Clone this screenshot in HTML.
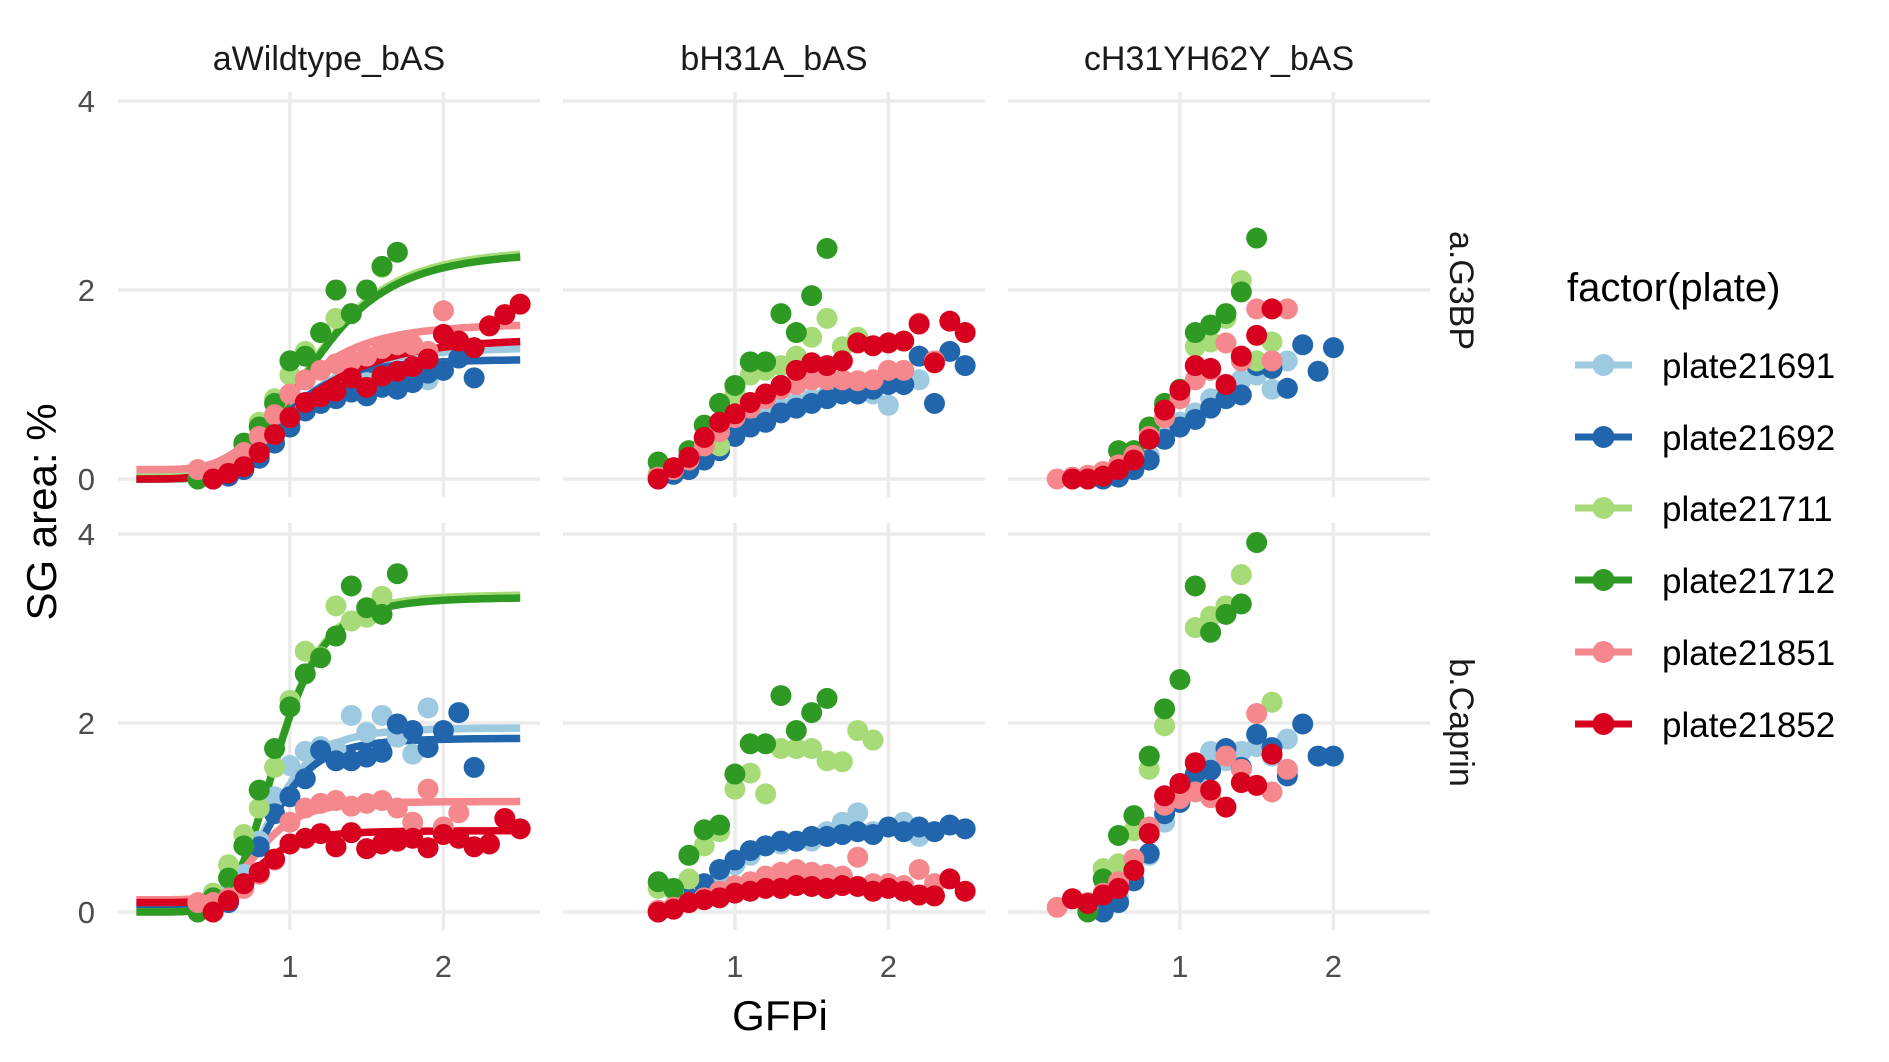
<!DOCTYPE html>
<html><head><meta charset="utf-8"><style>
html,body{margin:0;padding:0;background:#fff;}
svg{display:block;font-family:"Liberation Sans",Arial,sans-serif;}
</style></head><body>
<svg id="chart" width="1889" height="1062" viewBox="0 0 1889 1062">
<g id="grid"></g><g id="fits"></g><g id="pts"></g><g id="labels"></g><g id="legend"></g>
</svg>
<script>
// ---- data ----
const columns = ["aWildtype_bAS", "bH31A_bAS", "cH31YH62Y_bAS"];
const rows = ["a.G3BP", "b.Caprin"];
const plates = ["plate21691", "plate21692", "plate21711", "plate21712", "plate21851", "plate21852"];
const colors = ["#9ecae1", "#2166ac", "#a6db78", "#2e9a24", "#f4888c", "#d7001e"];
const yTicks = [0, 2, 4];
const xTicks = [1, 2];

const startTL = [0.5, 0.5, 0.4, 0.4, 0.4, 0.5];
const valsTL = [
 [0.02,0.05,0.12,0.25,0.45,0.62,0.75,0.85,0.92,0.98,1.02,1.08,1.12,1.18,1.05,1.15],
 [0.0,0.03,0.1,0.22,0.38,0.55,0.72,0.8,0.85,0.92,0.88,0.97,0.95,1.02,1.12,1.15,1.28,1.07],
 [0.0,0.05,0.15,0.35,0.6,0.85,1.1,1.35,1.55,1.7,1.75,2.0,2.24],
 [0.0,0.05,0.12,0.38,0.55,0.8,1.25,1.3,1.55,2.0,1.75,2.0,2.25,2.4],
 [0.1,0.08,0.15,0.28,0.45,0.68,0.9,1.05,1.15,1.22,1.25,1.3,1.38,1.42,1.42,1.35,1.78],
 [0.0,0.06,0.13,0.28,0.47,0.65,0.81,0.87,0.93,1.07,0.97,1.09,1.14,1.19,1.27,1.53,1.46,1.39,1.62,1.74,1.85]
];
const startTM = [0.5, 0.5, 0.5, 0.5, 0.5, 0.5];
const valsTM = [
 [0.02,0.05,0.12,0.22,0.35,0.5,0.6,0.68,0.75,0.8,0.85,0.88,0.92,0.95,0.9,0.78,1.05,1.05],
 [0.0,0.05,0.1,0.2,0.3,0.45,0.55,0.6,0.7,0.75,0.8,0.85,0.9,0.9,0.95,1.0,1.0,1.3,0.8,1.35,1.2],
 [0.05,0.1,0.25,0.4,0.35,0.9,1.1,1.15,1.2,1.3,1.5,1.7,1.4,1.5],
 [0.18,0.1,0.3,0.57,0.8,0.99,1.24,1.24,1.75,1.55,1.94,2.44],
 [0.02,0.1,0.2,0.35,0.5,0.65,0.75,0.85,0.95,1.0,1.05,1.05,1.05,1.04,1.05,1.15,1.15,1.65,1.25],
 [0.0,0.12,0.23,0.44,0.6,0.69,0.81,0.9,0.99,1.15,1.23,1.2,1.25,1.44,1.41,1.44,1.46,1.64,1.23,1.67,1.55]
];
const startTR = [0.5, 0.4, 0.5, 0.4, 0.2, 0.3];
const valsTR = [
 [0.0,0.03,0.1,0.25,0.45,0.6,0.7,0.85,0.95,1.05,1.1,0.95,1.25],
 [0.0,0.0,0.02,0.1,0.2,0.42,0.55,0.63,0.75,0.85,0.89,1.2,1.17,0.96,1.42,1.14,1.39],
 [0.05,0.15,0.3,0.5,0.75,0.9,1.4,1.45,1.7,2.1,1.25,1.45],
 [0.0,0.05,0.3,0.3,0.55,0.8,0.95,1.55,1.63,1.75,1.98,2.55],
 [0.0,0.02,0.04,0.08,0.15,0.25,0.45,0.65,0.85,1.05,1.15,1.44,1.25,1.8,1.25,1.8],
 [0.0,0.0,0.03,0.1,0.2,0.42,0.73,0.94,1.2,1.17,1.0,1.3,1.52,1.8]
];
const startBL = [0.5, 0.6, 0.5, 0.4, 0.4, 0.5];
const valsBL = [
 [0.15,0.2,0.4,0.75,1.22,1.55,1.7,1.75,1.72,2.08,1.9,2.08,1.85,1.67,2.16],
 [0.1,0.3,0.69,1.04,1.22,1.41,1.71,1.6,1.6,1.64,1.69,1.99,1.92,1.74,1.92,2.11,1.53],
 [0.2,0.5,0.82,1.1,1.53,2.24,2.76,2.7,3.24,3.08,3.12,3.34],
 [0.0,0.15,0.36,0.7,1.29,1.73,2.17,2.52,2.69,2.92,3.45,3.22,3.15,3.58],
 [0.1,0.1,0.15,0.25,0.4,0.55,0.95,1.1,1.15,1.18,1.12,1.15,1.18,1.1,0.95,1.3,0.9,1.05],
 [0.0,0.12,0.3,0.42,0.56,0.72,0.78,0.83,0.69,0.84,0.67,0.72,0.75,0.78,0.68,0.82,0.78,0.69,0.72,0.99,0.88]
];
const startBM = [0.5, 0.5, 0.5, 0.5, 0.5, 0.5];
const valsBM = [
 [0.02,0.05,0.1,0.2,0.35,0.5,0.6,0.7,0.72,0.75,0.75,0.85,0.95,1.05,0.85,0.9,0.95,0.8],
 [0.0,0.05,0.15,0.3,0.45,0.55,0.65,0.7,0.75,0.75,0.8,0.8,0.82,0.85,0.82,0.9,0.85,0.9,0.85,0.92,0.88],
 [0.25,0.23,0.35,0.7,0.85,1.3,1.47,1.25,1.73,1.73,1.73,1.6,1.59,1.92,1.82],
 [0.32,0.25,0.6,0.87,0.92,1.46,1.78,1.78,2.29,1.92,2.11,2.26],
 [0.02,0.05,0.1,0.15,0.22,0.28,0.32,0.38,0.42,0.45,0.42,0.4,0.38,0.58,0.3,0.3,0.28,0.45,0.3],
 [0.0,0.03,0.1,0.13,0.15,0.2,0.22,0.25,0.25,0.28,0.27,0.25,0.28,0.27,0.22,0.25,0.22,0.18,0.17,0.35,0.22]
];
const startBR = [0.5, 0.5, 0.4, 0.4, 0.2, 0.3];
const valsBR = [
 [0.05,0.15,0.35,0.6,0.95,1.2,1.4,1.7,1.6,1.7,1.75,1.65,1.83],
 [0.0,0.1,0.33,0.62,1.04,1.16,1.46,1.5,1.73,1.53,1.88,1.74,1.44,1.99,1.65,1.65],
 [0.05,0.46,0.51,0.86,1.51,1.97,null,3.01,3.13,3.24,3.57,null,2.22],
 [0.0,0.35,0.81,1.02,1.65,2.15,2.46,3.45,2.96,3.15,3.26,3.91],
 [0.05,0.14,0.1,0.2,0.32,0.56,0.9,1.13,1.2,1.27,1.21,1.65,1.51,2.1,1.27,1.51],
 [0.14,0.09,0.18,0.25,0.44,0.83,1.23,1.36,1.58,1.29,1.11,1.37,1.34,1.67]
];
// fitted Hill curves (first column only): base, top, ec50, hill exponent
const fitBaseTop = [0.03, 0.0, 0.02, 0.0, 0.1, 0.0];
const fitTopTop  = [1.40, 1.27, 2.45, 2.42, 1.65, 1.50];
const fitMidTop  = [1.0, 0.95, 1.15, 1.15, 1.0, 1.05];
const fitKTop    = [4.5, 5.0, 4.5, 4.5, 4.5, 4.0];
const fitBaseBot = [0.07, 0.07, 0.0, 0.0, 0.13, 0.1];
const fitTopBot  = [1.95, 1.84, 3.36, 3.33, 1.17, 0.86];
const fitMidBot  = [0.88, 0.88, 0.92, 0.92, 0.8, 0.8];
const fitKBot    = [6.0, 6.0, 6.0, 6.0, 6.0, 6.0];

// ---- layout ----
const NS = "http://www.w3.org/2000/svg";
const colLeft = [118, 563, 1008], panelW = 422;
const xMin = -0.12, xUnit = 153.5;
const rowZero = [479, 912], yUnit = 94.5;
const rowTop = [92, 523], rowBot = [497, 930];
function xs(c, v) { return colLeft[c] + (v - xMin) * xUnit; }
function ys(r, v) { return rowZero[r] - v * yUnit; }
function mk(tag, attrs, parent) {
  const e = document.createElementNS(NS, tag);
  for (const k in attrs) e.setAttribute(k, attrs[k]);
  parent.appendChild(e); return e;
}
const gGrid = document.getElementById("grid"), gFits = document.getElementById("fits"),
      gPts = document.getElementById("pts"), gLab = document.getElementById("labels"),
      gLeg = document.getElementById("legend");

for (let r = 0; r < 2; r++) for (let c = 0; c < 3; c++) {
  for (const t of yTicks) {
    const l = mk("line", {x1: colLeft[c], x2: colLeft[c] + panelW, y1: ys(r, t), y2: ys(r, t), stroke: "#ebebeb", "stroke-width": 3.5}, gGrid);
    
    
  }
  for (const t of xTicks) {
    const l = mk("line", {x1: xs(c, t), x2: xs(c, t), y1: rowTop[r], y2: rowBot[r], stroke: "#ebebeb", "stroke-width": 3.5}, gGrid);
    
    
  }
}

const fitSets = [[fitBaseTop, fitTopTop, fitMidTop, fitKTop], [fitBaseBot, fitTopBot, fitMidBot, fitKBot]];
for (let r = 0; r < 2; r++) {
  const [B, T, M, K] = fitSets[r];
  for (let p = 0; p < 6; p++) {
    let d = "";
    for (let i = 0; i <= 120; i++) {
      const x = 2.5 * i / 120;
      const h = Math.pow(x, K[p]) / (Math.pow(x, K[p]) + Math.pow(M[p], K[p]));
      const y = B[p] + (T[p] - B[p]) * h;
      d += (i ? "L" : "M") + xs(0, x).toFixed(1) + "," + ys(r, y).toFixed(1);
    }
    const path = mk("path", {d: d, fill: "none", stroke: colors[p], "stroke-width": 7.5}, gFits);
    
    
  }
}

const starts = [[startTL, startTM, startTR], [startBL, startBM, startBR]];
const vals = [[valsTL, valsTM, valsTR], [valsBL, valsBM, valsBR]];
for (let p = 0; p < 6; p++) for (let r = 0; r < 2; r++) for (let c = 0; c < 3; c++) {
  const st = starts[r][c][p], vv = vals[r][c][p];
  vv.forEach((v, i) => {
    if (v === null) return;
    const x = Math.round((st + 0.1 * i) * 10) / 10;
    const pt = mk("circle", {cx: xs(c, x), cy: ys(r, v), r: 10.5, fill: colors[p]}, gPts);
    
    
  });
}

function txt(s, attrs, name) {
  const t = mk("text", attrs, gLab); t.textContent = s;
  
  
  return t;
}
columns.forEach((s, c) => txt(s, {x: colLeft[c] + panelW / 2, y: 70, "font-size": 34, fill: "#1a1a1a", "text-anchor": "middle"}, 'strip-label-col'));
rows.forEach((s, r) => {
  const cy = (rowTop[r] + rowBot[r]) / 2 - 4;
  txt(s, {x: 0, y: 0, "font-size": 34, fill: "#1a1a1a", "text-anchor": "middle", transform: "translate(1450," + cy + ") rotate(90)"}, 'strip-label-row');
});
for (let r = 0; r < 2; r++) for (const t of yTicks)
  txt(String(t), {x: 95, y: ys(r, t) + 11, "font-size": 31, fill: "#4d4d4d", "text-anchor": "end"}, 'y-tick-label');
for (let c = 0; c < 3; c++) for (const t of xTicks)
  txt(String(t), {x: xs(c, t), y: 977, "font-size": 31, fill: "#4d4d4d", "text-anchor": "middle"}, 'x-tick-label');
txt("SG area: %", {x: 0, y: 0, "font-size": 42, fill: "#000", "text-anchor": "middle", transform: "translate(56,512) rotate(-90)"}, 'y-axis-title');
txt("GFPi", {x: 780, y: 1030, "font-size": 42, fill: "#000", "text-anchor": "middle"}, 'x-axis-title');

const lt = mk("text", {x: 1567, y: 301, "font-size": 40, fill: "#000"}, gLeg);
lt.textContent = "factor(plate)";


const legY = [365, 437, 508, 580, 652, 724];
plates.forEach((pl, i) => {
  const g = mk("g", {}, gLeg);
  
  
  mk("line", {x1: 1575, x2: 1632, y1: legY[i], y2: legY[i], stroke: colors[i], "stroke-width": 7}, g);
  mk("circle", {cx: 1603.5, cy: legY[i], r: 11, fill: colors[i]}, g);
  const t = mk("text", {x: 1662, y: legY[i] + 13, "font-size": 35, fill: "#000"}, g);
  t.textContent = pl;
});
</script>
</body></html>
